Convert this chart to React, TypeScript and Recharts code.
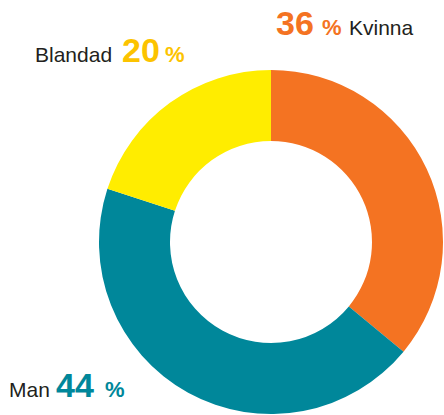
import { PieChart, Pie, Cell } from "recharts";

// ── Data ──────────────────────────────────────────────────────────────────────
const NAMES = ["Kvinna", "Man", "Blandad"];
const VALUES = [36, 44, 20];
const SLICE_COLORS = ["#f47322", "#00879a", "#ffed00"];
const TEXT_COLORS = ["#f47322", "#00879a", "#fcc300"];

const data = NAMES.map((name, i) => ({ name, value: VALUES[i] }));

const FONT = "'Liberation Sans', Arial, Helvetica, sans-serif";
const DARK = "#231f20";

// where each slice's label sits: x of the value, the "%" and the name, and baseline
const LABEL_POS: Record<string, { num: number; pct: number; name: number; y: number }> = {
  Kvinna: { num: 276, pct: 322, name: 349, y: 35 },
  Blandad: { num: 122, pct: 165, name: 35, y: 62 },
  Man: { num: 56, pct: 105, name: 9, y: 397 },
};

function SliceLabel(props: any) {
  const { name, value, index } = props;
  const pos = LABEL_POS[name];
  if (!pos) return null;
  const color = TEXT_COLORS[index];
  return (
    <g fontFamily={FONT}>
      <text x={pos.num} y={pos.y} fontWeight="bold" fontSize={34} fill={color} textAnchor="start">
        {value}
      </text>
      <text x={pos.pct} y={pos.y} fontWeight="bold" fontSize={22} fill={color} textAnchor="start">
        %
      </text>
      <text x={pos.name} y={pos.y} fontSize={21} fill={DARK} textAnchor="start">
        {name}
      </text>
    </g>
  );
}

export default function App() {
  return (
    <div style={{ position: "absolute", left: 0, top: 0, width: 444, height: 415, background: "#fff" }}>
      <PieChart width={444} height={415} margin={{ top: 0, right: 0, bottom: 0, left: 0 }}>
        <Pie
          data={data}
          dataKey="value"
          nameKey="name"
          cx={271}
          cy={242}
          innerRadius={101}
          outerRadius={172}
          startAngle={90}
          endAngle={-270}
          stroke="none"
          label={SliceLabel}
          labelLine={false}
          isAnimationActive={false}
        >
          {data.map((d, i) => (
            <Cell key={d.name} fill={SLICE_COLORS[i]} />
          ))}
        </Pie>
      </PieChart>
    </div>
  );
}
